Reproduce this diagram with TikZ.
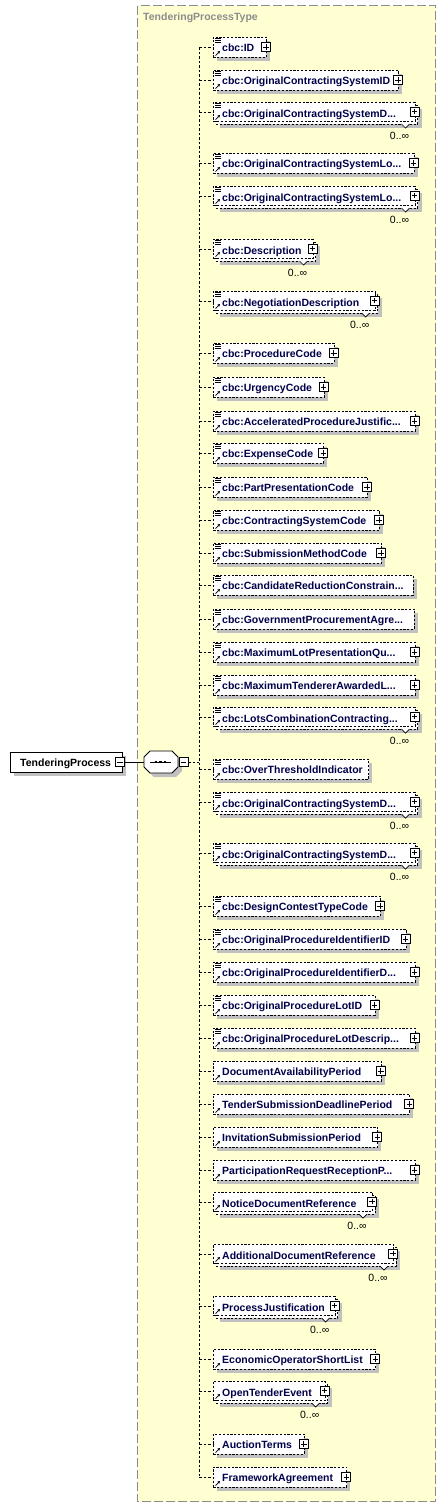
\documentclass[tikz,border=0pt]{standalone}
\usepackage{fontspec}
\setmainfont{Liberation Sans}
\usetikzlibrary{arrows.meta,calc}
\definecolor{ybg}{HTML}{FFFFD2}
\definecolor{ybd}{HTML}{8C8C8C}
\definecolor{shd}{HTML}{C0C0C0}
\definecolor{etx}{HTML}{00004A}
\tikzset{
  ebox/.style={draw=black, fill=white, line width=0.8pt, dash pattern=on 2.2pt off 1.6pt, inner sep=0pt},
  rbox/.style={draw=black, fill=white, line width=0.8pt, inner sep=0pt},
  shade/.style={fill=shd},
  conn/.style={draw=black, line width=0.8pt, dash pattern=on 2.5pt off 2pt},
  sconn/.style={draw=black, line width=0.8pt},
  etext/.style={inner sep=0pt, text=etx, font=\bfseries\fontsize{10.5}{12}\selectfont},
  occ/.style={inner sep=0pt, text=black, font=\fontsize{10.5}{12}\selectfont},
  notch/.style={draw=black, fill=white, line width=0.7pt},
  pmbox/.style={draw=black, fill=white, solid, line width=0.7pt, minimum size=9pt, inner sep=0pt},
  plusbox/.style={pmbox, path picture={
      \draw[line width=0.7pt] ([xshift=1.8pt]path picture bounding box.west) -- ([xshift=-1.8pt]path picture bounding box.east);
      \draw[line width=0.7pt] ([yshift=-1.8pt]path picture bounding box.north) -- ([yshift=1.8pt]path picture bounding box.south);}},
  minusbox/.style={pmbox, path picture={
      \draw[line width=0.7pt] ([xshift=1.8pt]path picture bounding box.west) -- ([xshift=-1.8pt]path picture bounding box.east);}},
  icon/.style={draw=black, line width=0.7pt},
}
% #1 id, #2 y, #3 right edge P, #4 text, #5 multi, #6 plus, #7 doc icon
\newcommand\elm[7]{%
  \ifnum#5=1
    \fill[shade] (220,#2-4) rectangle (#3+7,#2+15);
    \draw[ebox] (216,#2-8) rectangle (#3+3,#2+11);
    \filldraw[notch] (#3-13,#2+11) -- (#3-9,#2+15) -- (#3-5,#2+11);
    \node[ebox, minimum width={#3-213}, minimum height=19, anchor=north west] (e#1) at (213,#2-11) {};
    \node[occ] (o#1) at (#3-15,#2+23) {0..∞};
    \ifnum#7=1
      \draw[icon] (215,#2-10) -- (220.5,#2-10) (215,#2-8) -- (220.5,#2-8) (215,#2-6) -- (220.5,#2-6);
    \fi
    \draw[icon, -{Triangle[length=2.4pt,width=2.6pt]}] (215.5,#2+6.5) -- (220,#2+2);
    \ifnum#6=1 \node[plusbox] (p#1) at (#3,#2-1.5) {}; \fi
  \else
    \fill[shade] (217,#2-6) rectangle (#3+4,#2+14);
    \node[ebox, minimum width={#3-213}, minimum height=20, anchor=west] (e#1) at (213,#2) {};
    \ifnum#7=1
      \draw[icon] (215,#2-9) -- (220.5,#2-9) (215,#2-7) -- (220.5,#2-7) (215,#2-5) -- (220.5,#2-5);
    \fi
    \draw[icon, -{Triangle[length=2.4pt,width=2.6pt]}] (215.5,#2+8.5) -- (220,#2+4);
    \ifnum#6=1 \node[plusbox] (p#1) at (#3,#2) {}; \fi
  \fi
  \node[etext, anchor=base west] (t#1) at (222,#2+4) {#4};
  \draw[conn] (vl |- e#1.west) -- (e#1.west);
}
\begin{document}
\begin{tikzpicture}[x=1pt,y=-1pt]
\useasboundingbox (0,0) rectangle (447,1508);
% container
\draw[fill=ybg, draw=ybd, line width=1pt, dash pattern=on 9pt off 3pt] (137.5,5.5) rectangle (435.5,1501.5);
\node[inner sep=0pt, anchor=west, text=ybd, font=\bfseries\fontsize{10.5}{12}\selectfont] (title) at (143,17.5) {TenderingProcessType};
% vertical line
\coordinate (vl) at (199,0);
\coordinate (vtop) at (199,47);
\coordinate (vbot) at (199,1477);
\draw[conn] (vtop) -- (vbot);
% root
\fill[shade] (14,756) rectangle (126,776);
\node[rbox, minimum width=112, minimum height=20, anchor=west] (root) at (10,762) {};
\node[inner sep=0pt, anchor=base west, text=black, font=\bfseries\fontsize{10.5}{12}\selectfont] (roottext) at (20,766) {TenderingProcess};
\node[minusbox] (rootm) at (120,762) {};
% sequence
\fill[shade] (154,755) -- (176,755) -- (182,761) -- (182,771) -- (176,777) -- (154,777) -- (148,771) -- (148,761) -- cycle;
\filldraw[rbox] (150,751) -- (172,751) -- (178,757) -- (178,767) -- (172,773) -- (150,773) -- (144,767) -- (144,757) -- cycle;
\node[inner sep=0pt, minimum width=34, minimum height=22] (seq) at (161,762) {};
\draw[line width=0.9pt] (150,762) -- (171,762);
\foreach \dx in {156,160.5,165} {\fill (\dx-1.4,760.6) rectangle (\dx+1.4,763.4);}
\node[minusbox] (seqm) at (183.5,762) {};
\draw[sconn] (rootm.east) -- (seq.west);
\draw[conn] (seqm.east) -- (vl |- seqm.east);
% elements
\elm{1}{47}{266}{cbc:ID}{0}{1}{1}
\elm{2}{80}{398}{cbc:OriginalContractingSystemID}{0}{1}{1}
\elm{3}{113}{414.5}{cbc:OriginalContractingSystemD...}{1}{1}{1}
\elm{4}{163}{413.5}{cbc:OriginalContractingSystemLo...}{0}{1}{1}
\elm{5}{197}{414.5}{cbc:OriginalContractingSystemLo...}{1}{1}{1}
\elm{6}{250}{312.5}{cbc:Description}{1}{1}{1}
\elm{7}{302}{374.7}{cbc:NegotiationDescription}{1}{1}{1}
\elm{8}{353}{333.8}{cbc:ProcedureCode}{0}{1}{1}
\elm{9}{387}{323.5}{cbc:UrgencyCode}{0}{1}{1}
\elm{10}{421}{414.5}{cbc:AcceleratedProcedureJustific...}{0}{1}{1}
\elm{11}{453}{323.3}{cbc:ExpenseCode}{0}{1}{1}
\elm{12}{487}{367}{cbc:PartPresentationCode}{0}{1}{1}
\elm{13}{520}{379}{cbc:ContractingSystemCode}{0}{1}{1}
\elm{14}{553}{381}{cbc:SubmissionMethodCode}{0}{1}{1}
\elm{15}{585}{412.7}{cbc:CandidateReductionConstrain...}{0}{0}{1}
\elm{16}{619}{414}{cbc:GovernmentProcurementAgre...}{0}{0}{1}
\elm{17}{652}{414.5}{cbc:MaximumLotPresentationQu...}{0}{1}{1}
\elm{18}{685}{414.5}{cbc:MaximumTendererAwardedL...}{0}{1}{1}
\elm{19}{718}{414.5}{cbc:LotsCombinationContracting...}{1}{1}{1}
\elm{20}{769}{368.3}{cbc:OverThresholdIndicator}{0}{0}{1}
\elm{21}{803}{414.5}{cbc:OriginalContractingSystemD...}{1}{1}{1}
\elm{22}{854}{414.5}{cbc:OriginalContractingSystemD...}{1}{1}{1}
\elm{23}{906}{380}{cbc:DesignContestTypeCode}{0}{1}{1}
\elm{24}{939}{405.5}{cbc:OriginalProcedureIdentifierID}{0}{1}{1}
\elm{25}{972}{414.5}{cbc:OriginalProcedureIdentifierD...}{0}{1}{1}
\elm{26}{1005}{374.5}{cbc:OriginalProcedureLotID}{0}{1}{1}
\elm{27}{1038}{414.5}{cbc:OriginalProcedureLotDescrip...}{0}{1}{1}
\elm{28}{1071}{380.8}{DocumentAvailabilityPeriod}{0}{1}{0}
\elm{29}{1104}{409.2}{TenderSubmissionDeadlinePeriod}{0}{1}{0}
\elm{30}{1137}{377.2}{InvitationSubmissionPeriod}{0}{1}{0}
\elm{31}{1170}{414.5}{ParticipationRequestReceptionP...}{0}{1}{0}
\elm{32}{1203}{372}{NoticeDocumentReference}{1}{1}{0}
\elm{33}{1255}{393}{AdditionalDocumentReference}{1}{1}{0}
\elm{34}{1307}{334.7}{ProcessJustification}{1}{1}{0}
\elm{35}{1359}{375.3}{EconomicOperatorShortList}{0}{1}{0}
\elm{36}{1392}{324.7}{OpenTenderEvent}{1}{1}{0}
\elm{37}{1444}{303.8}{AuctionTerms}{0}{1}{0}
\elm{38}{1477}{346.2}{FrameworkAgreement}{0}{1}{0}
\end{tikzpicture}
\end{document}
